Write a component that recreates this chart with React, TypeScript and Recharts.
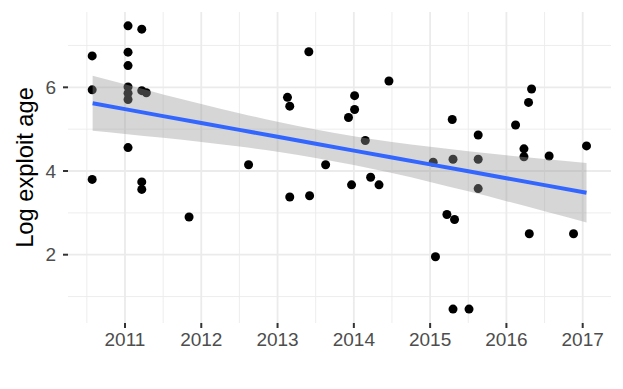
import {
  CartesianGrid,
  ComposedChart,
  Area,
  Line,
  Scatter,
  XAxis,
  YAxis,
} from "recharts";

// release year (decimal) and log exploit age for each observation
const exploitYears = [
  2010.57, 2010.57, 2010.57,
  2011.04, 2011.04, 2011.04, 2011.04, 2011.04, 2011.04, 2011.04,
  2011.22, 2011.22, 2011.28, 2011.22, 2011.22,
  2011.84, 2012.62,
  2013.13, 2013.16, 2013.16, 2013.41, 2013.42, 2013.63,
  2013.93, 2013.97, 2014.01, 2014.01, 2014.15, 2014.22, 2014.33, 2014.46,
  2015.04, 2015.07, 2015.22, 2015.29, 2015.3, 2015.32, 2015.3, 2015.51,
  2015.63, 2015.63, 2015.63,
  2016.12, 2016.23, 2016.23, 2016.29, 2016.3, 2016.33, 2016.56, 2016.88,
  2017.05,
];
const logAges = [
  6.75, 5.94, 3.8,
  7.47, 6.84, 6.52, 6.01, 5.86, 5.71, 4.56,
  7.39, 5.92, 5.87, 3.74, 3.56,
  2.9, 4.15,
  5.76, 5.55, 3.38, 6.85, 3.41, 4.15,
  5.28, 3.67, 5.8, 5.47, 4.73, 3.85, 3.67, 6.15,
  4.21, 1.95, 2.96, 5.23, 4.28, 2.84, 0.7, 0.7,
  4.86, 4.28, 3.58,
  5.1, 4.53, 4.34, 5.64, 2.5, 5.96, 4.36, 2.5,
  4.6,
];

// linear fit with its confidence band
const fitYears = [
  2010.576, 2011, 2011.5, 2012, 2012.5, 2013, 2013.5, 2014, 2014.5, 2015,
  2015.5, 2016, 2016.5, 2017.05,
];
const fitValues = [
  5.618, 5.479, 5.312, 5.148, 4.983, 4.818, 4.653, 4.488, 4.323, 4.158,
  3.993, 3.828, 3.663, 3.481,
];
const bandLower = [
  4.961, 4.886, 4.793, 4.694, 4.585, 4.46, 4.314, 4.144, 3.951, 3.739,
  3.514, 3.28, 3.04, 2.772,
];
const bandUpper = [
  6.275, 6.072, 5.83, 5.601, 5.381, 5.176, 4.992, 4.832, 4.695, 4.577,
  4.472, 4.376, 4.286, 4.191,
];

const xTicks = [2011, 2012, 2013, 2014, 2015, 2016, 2017];
const xMinor = [2010.5, 2011.5, 2012.5, 2013.5, 2014.5, 2015.5, 2016.5];
const yTicks = [2, 4, 6];
const yMinor = [1, 3, 5, 7];

const points = exploitYears.map((year, i) => ({ year, age: logAges[i] }));
const fit = fitYears.map((year, i) => ({
  year,
  fit: fitValues[i],
  lower: bandLower[i],
  upper: bandUpper[i],
}));

const font = "'Liberation Sans', Arial, Helvetica, sans-serif";
const tickStyle = { fill: "#4D4D4D", fontSize: 19, fontFamily: font };
const tickLine = { stroke: "#333333", strokeWidth: 2 };

export default function App() {
  return (
    <div style={{ position: "absolute", left: 0, top: 0, background: "#fff" }}>
      <ComposedChart
        width={623}
        height={389}
        margin={{ top: 12, right: 12, bottom: 0, left: 0 }}
      >
        <CartesianGrid
          verticalValues={xMinor}
          horizontalValues={yMinor}
          stroke="#EBEBEB"
          strokeWidth={0.9}
        />
        <CartesianGrid
          verticalValues={xTicks}
          horizontalValues={yTicks}
          stroke="#EBEBEB"
          strokeWidth={1.8}
        />
        <XAxis
          type="number"
          dataKey="year"
          domain={[2010.253, 2017.371]}
          ticks={xTicks}
          allowDataOverflow
          height={66}
          tick={tickStyle}
          tickLine={tickLine}
          tickSize={5}
          tickMargin={5}
          axisLine={false}
        />
        <YAxis
          type="number"
          domain={[0.368, 7.8]}
          ticks={yTicks}
          allowDataOverflow
          width={68}
          tick={tickStyle}
          tickLine={tickLine}
          tickSize={5}
          tickMargin={7}
          axisLine={false}
          label={{
            content: () => (
              <text
                x={33}
                y={167.5}
                transform="rotate(-90 33 167.5)"
                textAnchor="middle"
                fontSize={23.7}
                fontFamily={font}
                fill="#000"
              >
                Log exploit age
              </text>
            ),
          }}
        />
        <Scatter
          data={points}
          dataKey="age"
          zIndex={50}
          isAnimationActive={false}
          shape={(p: any) => <circle cx={p.cx} cy={p.cy} r={4.5} fill="#000" />}
        />
        <Area
          data={fit}
          dataKey={(d: any) => [d.lower, d.upper]}
          type="monotone"
          stroke="none"
          fill="#999999"
          fillOpacity={0.4}
          zIndex={100}
          isAnimationActive={false}
        />
        <Line
          data={fit}
          dataKey="fit"
          type="linear"
          stroke="#3366FF"
          strokeWidth={4}
          dot={false}
          zIndex={400}
          isAnimationActive={false}
        />
      </ComposedChart>
    </div>
  );
}
